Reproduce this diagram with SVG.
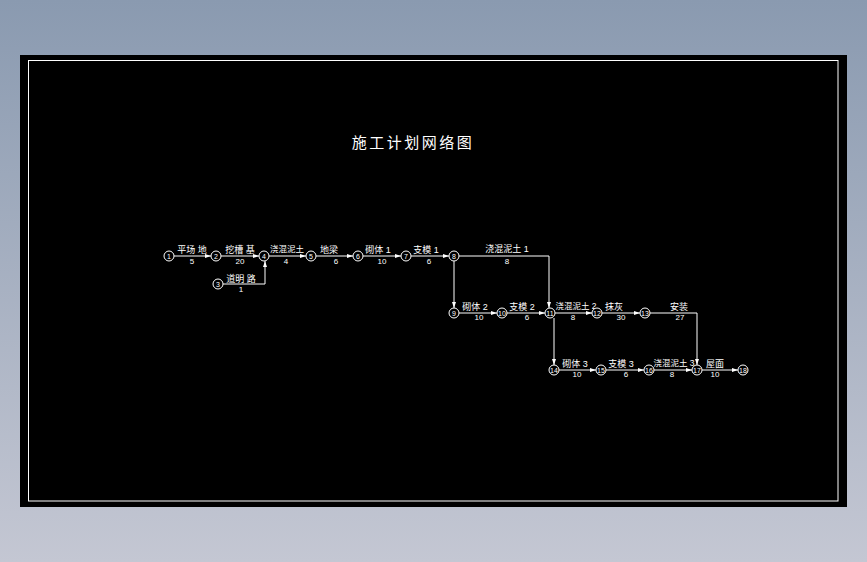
<svg xmlns="http://www.w3.org/2000/svg" width="867" height="562" viewBox="0 0 867 562">
<defs>
<linearGradient id="bg" x1="0" y1="0" x2="0" y2="1">
<stop offset="0" stop-color="#8a9ab0"/>
<stop offset="1" stop-color="#c4c7d3"/>
</linearGradient>
<marker id="ah" viewBox="0 0 6 4" refX="6" refY="2" markerWidth="6" markerHeight="4" markerUnits="userSpaceOnUse" orient="auto">
<path d="M0,0 L6,2 L0,4 Z" fill="#fff"/>
</marker>
</defs>
<style>
.ln{fill:none;stroke:#fff;stroke-width:1;marker-end:url(#ah)}
.nd circle{fill:#000;stroke:#fff;stroke-width:1}
.nd text{fill:#fff;font-family:"Liberation Sans",sans-serif;font-size:7px;text-anchor:middle}
.lb{fill:#fff;font-family:"Liberation Sans","Noto Sans CJK SC",sans-serif;font-size:9px;text-anchor:middle}
.lb2{font-size:8.5px}
.vl{fill:#fff;font-family:"Liberation Sans",sans-serif;font-size:8px;text-anchor:middle}
.tt{fill:#fff;font-family:"Liberation Sans","Noto Sans CJK SC",sans-serif;font-size:15px;letter-spacing:2.5px;text-anchor:middle}
</style>
<rect x="0" y="0" width="867" height="562" fill="url(#bg)"/>
<rect x="20" y="55" width="827" height="452" fill="#000"/>
<rect x="28.5" y="60.5" width="809.5" height="440.5" fill="none" stroke="#fff" stroke-width="1"/>
<text class="tt" x="413" y="148">施工计划网络图</text>
<g id="connectors">
<path class="ln" d="M174,256 H211"/>
<path class="ln" d="M221,256 H259"/>
<path class="ln" d="M223,284 H265 V261"/>
<path class="ln" d="M269,256 H306"/>
<path class="ln" d="M316,256 H353"/>
<path class="ln" d="M363,256 H401"/>
<path class="ln" d="M411,256 H449"/>
<path class="ln" d="M459,256 H549 V308"/>
<path class="ln" d="M454,261 V308"/>
<path class="ln" d="M459,313 H497"/>
<path class="ln" d="M507,313 H545"/>
<path class="ln" d="M555,313 H592"/>
<path class="ln" d="M602,313 H640"/>
<path class="ln" d="M650,313 H697 V365"/>
<path class="ln" d="M554,318 V365"/>
<path class="ln" d="M559,370 H596"/>
<path class="ln" d="M606,370 H644"/>
<path class="ln" d="M654,370 H692"/>
<path class="ln" d="M702,370 H738"/>
<g id="edge-labels">
<text class="lb" x="192" y="253">平场 地</text><text class="vl" x="192" y="264">5</text>
<text class="lb" x="240" y="253">挖槽 基</text><text class="vl" x="240" y="264">20</text>
<text class="lb" x="241" y="282">道明 路</text><text class="vl" x="241" y="292">1</text>
<text class="lb lb2" x="287" y="252">浇混泥土</text><text class="vl" x="286" y="264">4</text>
<text class="lb" x="329" y="253">地梁</text><text class="vl" x="336" y="264">6</text>
<text class="lb" x="378" y="253">砌体 1</text><text class="vl" x="382" y="264">10</text>
<text class="lb" x="426" y="253">支模 1</text><text class="vl" x="429" y="264">6</text>
<text class="lb" x="507" y="252">浇混泥土 1</text><text class="vl" x="507" y="264">8</text>
<text class="lb" x="475" y="310">砌体 2</text><text class="vl" x="479" y="320">10</text>
<text class="lb" x="522" y="310">支模 2</text><text class="vl" x="527" y="320">6</text>
<text class="lb lb2" x="576" y="309">浇混泥土 2</text><text class="vl" x="573" y="320">8</text>
<text class="lb" x="614" y="310">抹灰</text><text class="vl" x="621" y="320">30</text>
<text class="lb" x="679" y="310">安装</text><text class="vl" x="680" y="320">27</text>
<text class="lb" x="575" y="367">砌体 3</text><text class="vl" x="577" y="377">10</text>
<text class="lb" x="621" y="367">支模 3</text><text class="vl" x="626" y="377">6</text>
<text class="lb lb2" x="674" y="366">浇混泥土 3</text><text class="vl" x="672" y="377">8</text>
<text class="lb" x="715" y="367">屋面</text><text class="vl" x="715" y="377">10</text>
</g>
</g>
<g id="n1" class="nd"><circle cx="169" cy="256" r="5"/><text x="169" y="258.5">1</text></g>
<g id="n2" class="nd"><circle cx="216" cy="256" r="5"/><text x="216" y="258.5">2</text></g>
<g id="n3" class="nd"><circle cx="218" cy="284" r="5"/><text x="218" y="286.5">3</text></g>
<g id="n4" class="nd"><circle cx="264" cy="256" r="5"/><text x="264" y="258.5">4</text></g>
<g id="n5" class="nd"><circle cx="311" cy="256" r="5"/><text x="311" y="258.5">5</text></g>
<g id="n6" class="nd"><circle cx="358" cy="256" r="5"/><text x="358" y="258.5">6</text></g>
<g id="n7" class="nd"><circle cx="406" cy="256" r="5"/><text x="406" y="258.5">7</text></g>
<g id="n8" class="nd"><circle cx="454" cy="256" r="5"/><text x="454" y="258.5">8</text></g>
<g id="n9" class="nd"><circle cx="454" cy="313" r="5"/><text x="454" y="315.5">9</text></g>
<g id="n10" class="nd"><circle cx="502" cy="313" r="5"/><text x="502" y="315.5">10</text></g>
<g id="n11" class="nd"><circle cx="550" cy="313" r="5"/><text x="550" y="315.5">11</text></g>
<g id="n12" class="nd"><circle cx="597" cy="313" r="5"/><text x="597" y="315.5">12</text></g>
<g id="n13" class="nd"><circle cx="645" cy="313" r="5"/><text x="645" y="315.5">13</text></g>
<g id="n14" class="nd"><circle cx="554" cy="370" r="5"/><text x="554" y="372.5">14</text></g>
<g id="n15" class="nd"><circle cx="601" cy="370" r="5"/><text x="601" y="372.5">15</text></g>
<g id="n16" class="nd"><circle cx="649" cy="370" r="5"/><text x="649" y="372.5">16</text></g>
<g id="n17" class="nd"><circle cx="697" cy="370" r="5"/><text x="697" y="372.5">17</text></g>
<g id="n18" class="nd"><circle cx="743" cy="370" r="5"/><text x="743" y="372.5">18</text></g>
</svg>
